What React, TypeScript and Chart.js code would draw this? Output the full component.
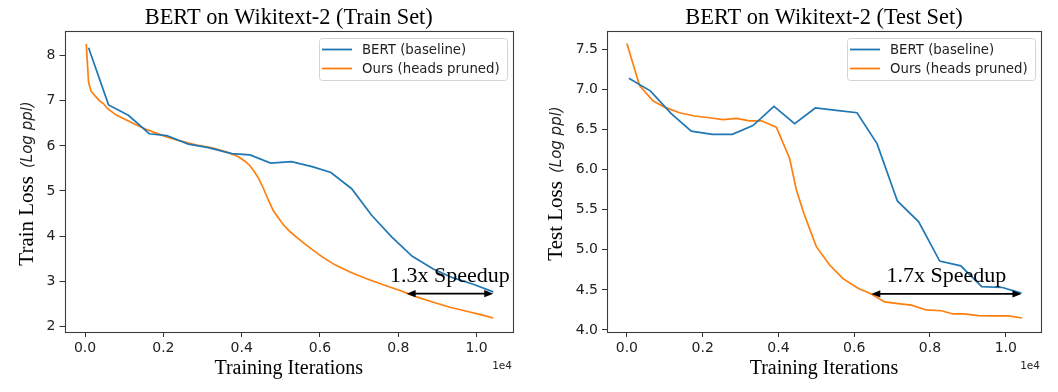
import React, { useEffect, useRef } from "react";
import { Chart, registerables } from "chart.js";

Chart.register(...registerables);

// ---------- data ----------
const seriesLabels = ["BERT (baseline)", "Ours (heads pruned)"];
const xTickValues = [0, 2000, 4000, 6000, 8000, 10000];
const trainYTicks = [2, 3, 4, 5, 6, 7, 8];
const testYTicks = [4.0, 4.5, 5.0, 5.5, 6.0, 6.5, 7.0, 7.5];

const trainBaselineX = [90, 600, 1106, 1640, 2085, 2638, 3149, 3745, 4213, 4740, 5270, 5800, 6280, 6809, 7319, 7830, 8357, 8894, 9404, 9915, 10426];
const trainBaselineY = [8.18, 6.91, 6.68, 6.27, 6.23, 6.04, 5.96, 5.83, 5.80, 5.62, 5.65, 5.54, 5.41, 5.05, 4.46, 3.98, 3.55, 3.27, 3.07, 2.93, 2.76];

const trainOursX = [30, 90, 150, 255, 383, 468, 570, 790, 1040, 1300, 1560, 1800, 2085, 2426, 2851, 3277, 3700, 3915, 4085, 4213, 4320, 4440, 4554, 4680, 4810, 4940, 5065, 5230, 5407, 5620, 5831, 6085, 6383, 6766, 7191, 7617, 8043, 8468, 8894, 9319, 9745, 10128, 10426];
const trainOursY = [8.26, 7.41, 7.22, 7.11, 6.99, 6.94, 6.83, 6.69, 6.58, 6.47, 6.37, 6.29, 6.2, 6.11, 6.02, 5.95, 5.84, 5.76, 5.66, 5.56, 5.43, 5.27, 5.06, 4.8, 4.56, 4.4, 4.25, 4.1, 3.97, 3.82, 3.68, 3.52, 3.36, 3.2, 3.05, 2.92, 2.79, 2.65, 2.53, 2.42, 2.33, 2.25, 2.18];

const testBaselineX = [53, 625, 1171, 1699, 2254, 2782, 3327, 3882, 4428, 4974, 5528, 6074, 6602, 7139, 7702, 8257, 8812, 9366, 9912, 10414];
const testBaselineY = [7.14, 6.98, 6.7, 6.48, 6.44, 6.44, 6.55, 6.79, 6.575, 6.77, 6.74, 6.71, 6.325, 5.61, 5.35, 4.86, 4.8, 4.54, 4.53, 4.46];

const testOursX = [0, 334, 687, 995, 1391, 1787, 2227, 2535, 2887, 3239, 3548, 3944, 4296, 4472, 4674, 5000, 5352, 5704, 6100, 6452, 6804, 7157, 7509, 7905, 8301, 8609, 8917, 9269, 9621, 10062, 10431];
const testOursY = [7.575, 7.05, 6.86, 6.78, 6.71, 6.67, 6.645, 6.625, 6.64, 6.61, 6.61, 6.53, 6.14, 5.75, 5.45, 5.04, 4.81, 4.64, 4.52, 4.45, 4.35, 4.33, 4.31, 4.25, 4.24, 4.2, 4.2, 4.18, 4.175, 4.175, 4.15];

// annotation: [xStart, xEnd, y]
const trainArrow = [8213, 10426, 2.72];
const testArrow = [6452, 10414, 4.45];
const trainSpeedup = "1.3x Speedup";
const testSpeedup = "1.7x Speedup";

const BLUE = "#1f77b4";
const ORANGE = "#ff7f0e";
const SERIF = "'Liberation Serif', 'Times New Roman', serif";
const SANS = "'DejaVu Sans', sans-serif";

const zip = (xs: number[], ys: number[]) => xs.map((x, i) => ({ x, y: ys[i] }));

const decorPlugin = {
  id: "decor",
  afterDraw(chart: any, _args: any, opts: any) {
    const { ctx, chartArea: a, scales } = chart;
    const xs = scales.x;
    const ys = scales.y;
    ctx.save();

    // frame
    const L = Math.round(a.left) + 0.5;
    const R = Math.round(a.right) + 0.5;
    const T = Math.round(a.top) + 0.5;
    const B = Math.round(a.bottom) + 0.5;
    ctx.strokeStyle = "#3c3c3c";
    ctx.lineWidth = 1.1;
    ctx.strokeRect(L, T, R - L, B - T);

    const cx = (a.left + a.right) / 2;
    const cy = (a.top + a.bottom) / 2;

    // title
    ctx.fillStyle = "#000";
    ctx.textAlign = "center";
    ctx.textBaseline = "alphabetic";
    ctx.font = `22.4px ${SERIF}`;
    ctx.fillText(opts.title, cx, a.top - 7);

    // x title
    ctx.font = `20px ${SERIF}`;
    ctx.fillText("Training Iterations", cx, a.bottom + 42);

    // offset text
    ctx.font = `10.5px ${SANS}`;
    ctx.textAlign = "right";
    ctx.fillStyle = "#222";
    ctx.fillText("1e4", a.right - 1, a.bottom + 37);

    // y title (rotated, mixed fonts)
    ctx.save();
    ctx.translate(33, cy + 2);
    ctx.rotate(-Math.PI / 2);
    ctx.fillStyle = "#000";
    ctx.textAlign = "left";
    const mainFont = `21px ${SERIF}`;
    const subFont = `italic 15px ${SANS}`;
    ctx.font = mainFont;
    const w1 = ctx.measureText(opts.yTitle).width;
    ctx.font = subFont;
    const w2 = ctx.measureText("(Log ppl)").width;
    const gap = 8;
    const total = w1 + gap + w2;
    let sx = -total / 2;
    ctx.font = mainFont;
    ctx.fillText(opts.yTitle, sx, 0);
    sx += w1 + gap;
    ctx.font = subFont;
    ctx.fillStyle = "#222";
    ctx.fillText("(Log ppl)", sx, -1);
    ctx.restore();

    // legend
    const bw = 188;
    const bh = 42;
    const bx = a.right - 6 - bw;
    const by = a.top + 7;
    ctx.beginPath();
    ctx.roundRect(bx + 0.5, by + 0.5, bw, bh, 3);
    ctx.fillStyle = "rgba(255,255,255,0.8)";
    ctx.fill();
    ctx.strokeStyle = "#d4d4d4";
    ctx.lineWidth = 1;
    ctx.stroke();
    const rows = [
      { c: BLUE, t: seriesLabels[0], y: by + 11.5 },
      { c: ORANGE, t: seriesLabels[1], y: by + 30.5 },
    ];
    ctx.font = `13.3px ${SANS}`;
    ctx.textAlign = "left";
    ctx.textBaseline = "middle";
    for (const r of rows) {
      ctx.strokeStyle = r.c;
      ctx.lineWidth = 1.8;
      ctx.beginPath();
      ctx.moveTo(bx + 3, r.y);
      ctx.lineTo(bx + 33, r.y);
      ctx.stroke();
      ctx.fillStyle = "#222";
      ctx.fillText(r.t, bx + 43, r.y + 1);
    }

    // arrow annotation
    const [x1v, x2v, yv] = opts.arrow;
    const x1 = xs.getPixelForValue(x1v);
    const x2 = xs.getPixelForValue(x2v);
    const y = ys.getPixelForValue(yv);
    const hl = 9;
    const hw = 3.6;
    ctx.strokeStyle = "#000";
    ctx.fillStyle = "#000";
    ctx.lineWidth = 1.8;
    ctx.beginPath();
    ctx.moveTo(x1 + hl - 1, y);
    ctx.lineTo(x2 - hl + 1, y);
    ctx.stroke();
    ctx.beginPath();
    ctx.moveTo(x1, y);
    ctx.lineTo(x1 + hl, y - hw);
    ctx.lineTo(x1 + hl, y + hw);
    ctx.closePath();
    ctx.fill();
    ctx.beginPath();
    ctx.moveTo(x2, y);
    ctx.lineTo(x2 - hl, y - hw);
    ctx.lineTo(x2 - hl, y + hw);
    ctx.closePath();
    ctx.fill();

    ctx.font = `22px ${SERIF}`;
    ctx.textAlign = "center";
    ctx.textBaseline = "alphabetic";
    ctx.fillText(opts.speedup, (x1 + x2) / 2, y - 12);

    ctx.restore();
  },
};

type PanelProps = {
  left: number;
  padLeft: number;
  padRight: number;
  baseline: { x: number; y: number }[];
  ours: { x: number; y: number }[];
  yMin: number;
  yMax: number;
  yTicks: number[];
  yDigits: number;
  title: string;
  yTitle: string;
  arrow: number[];
  speedup: string;
};

function Panel(p: PanelProps) {
  const ref = useRef<HTMLCanvasElement | null>(null);
  useEffect(() => {
    if (!ref.current) return;
    const tickFont = { family: SANS, size: 14 };
    const chart = new Chart(ref.current, {
      type: "line",
      data: {
        datasets: [
          { label: seriesLabels[0], data: p.baseline, borderColor: BLUE, backgroundColor: BLUE, borderWidth: 1.7, pointRadius: 0, tension: 0 },
          { label: seriesLabels[1], data: p.ours, borderColor: ORANGE, backgroundColor: ORANGE, borderWidth: 1.7, pointRadius: 0, tension: 0 },
        ],
      },
      options: {
        animation: false,
        responsive: false,
        devicePixelRatio: 1,
        layout: { padding: { left: p.padLeft, right: p.padRight, top: 31, bottom: 20 } },
        plugins: {
          legend: { display: false },
          title: { display: false },
          tooltip: { enabled: false },
          decor: { title: p.title, yTitle: p.yTitle, arrow: p.arrow, speedup: p.speedup },
        } as any,
        scales: {
          x: {
            type: "linear",
            min: -525,
            max: 10930,
            afterBuildTicks: (s: any) => {
              s.ticks = xTickValues.map((v) => ({ value: v }));
            },
            afterFit: (s: any) => {
              s.height = 40;
            },
            grid: { drawOnChartArea: false, drawTicks: true, tickLength: 5, color: "#333" },
            border: { display: false },
            ticks: {
              font: tickFont,
              color: "#222",
              padding: 3,
              maxRotation: 0,
              callback: (v: any) => (Number(v) / 1e4).toFixed(1),
            },
          },
          y: {
            type: "linear",
            min: p.yMin,
            max: p.yMax,
            afterBuildTicks: (s: any) => {
              s.ticks = p.yTicks.map((v) => ({ value: v }));
            },
            afterFit: (s: any) => {
              s.width = 40;
            },
            grid: { drawOnChartArea: false, drawTicks: true, tickLength: 5, color: "#333" },
            border: { display: false },
            ticks: {
              font: tickFont,
              color: "#222",
              padding: 4,
              callback: (v: any) => Number(v).toFixed(p.yDigits),
            },
          },
        },
      },
      plugins: [decorPlugin as any],
    });
    return () => chart.destroy();
  }, []);
  return (
    <canvas
      ref={ref}
      width={529}
      height={392}
      style={{ position: "absolute", left: p.left, top: 0, width: 529, height: 392 }}
    />
  );
}

export default function App() {
  return (
    <div style={{ position: "absolute", left: 0, top: 0, width: 1058, height: 392, background: "#fff" }}>
      <Panel
        left={0}
        padLeft={24.5}
        padRight={16}
        baseline={zip(trainBaselineX, trainBaselineY)}
        ours={zip(trainOursX, trainOursY)}
        yMin={1.87}
        yMax={8.55}
        yTicks={trainYTicks}
        yDigits={0}
        title="BERT on Wikitext-2 (Train Set)"
        yTitle="Train Loss"
        arrow={trainArrow}
        speedup={trainSpeedup}
      />
      <Panel
        left={529}
        padLeft={38}
        padRight={17}
        baseline={zip(testBaselineX, testBaselineY)}
        ours={zip(testOursX, testOursY)}
        yMin={3.975}
        yMax={7.73}
        yTicks={testYTicks}
        yDigits={1}
        title="BERT on Wikitext-2 (Test Set)"
        yTitle="Test Loss"
        arrow={testArrow}
        speedup={testSpeedup}
      />
    </div>
  );
}
